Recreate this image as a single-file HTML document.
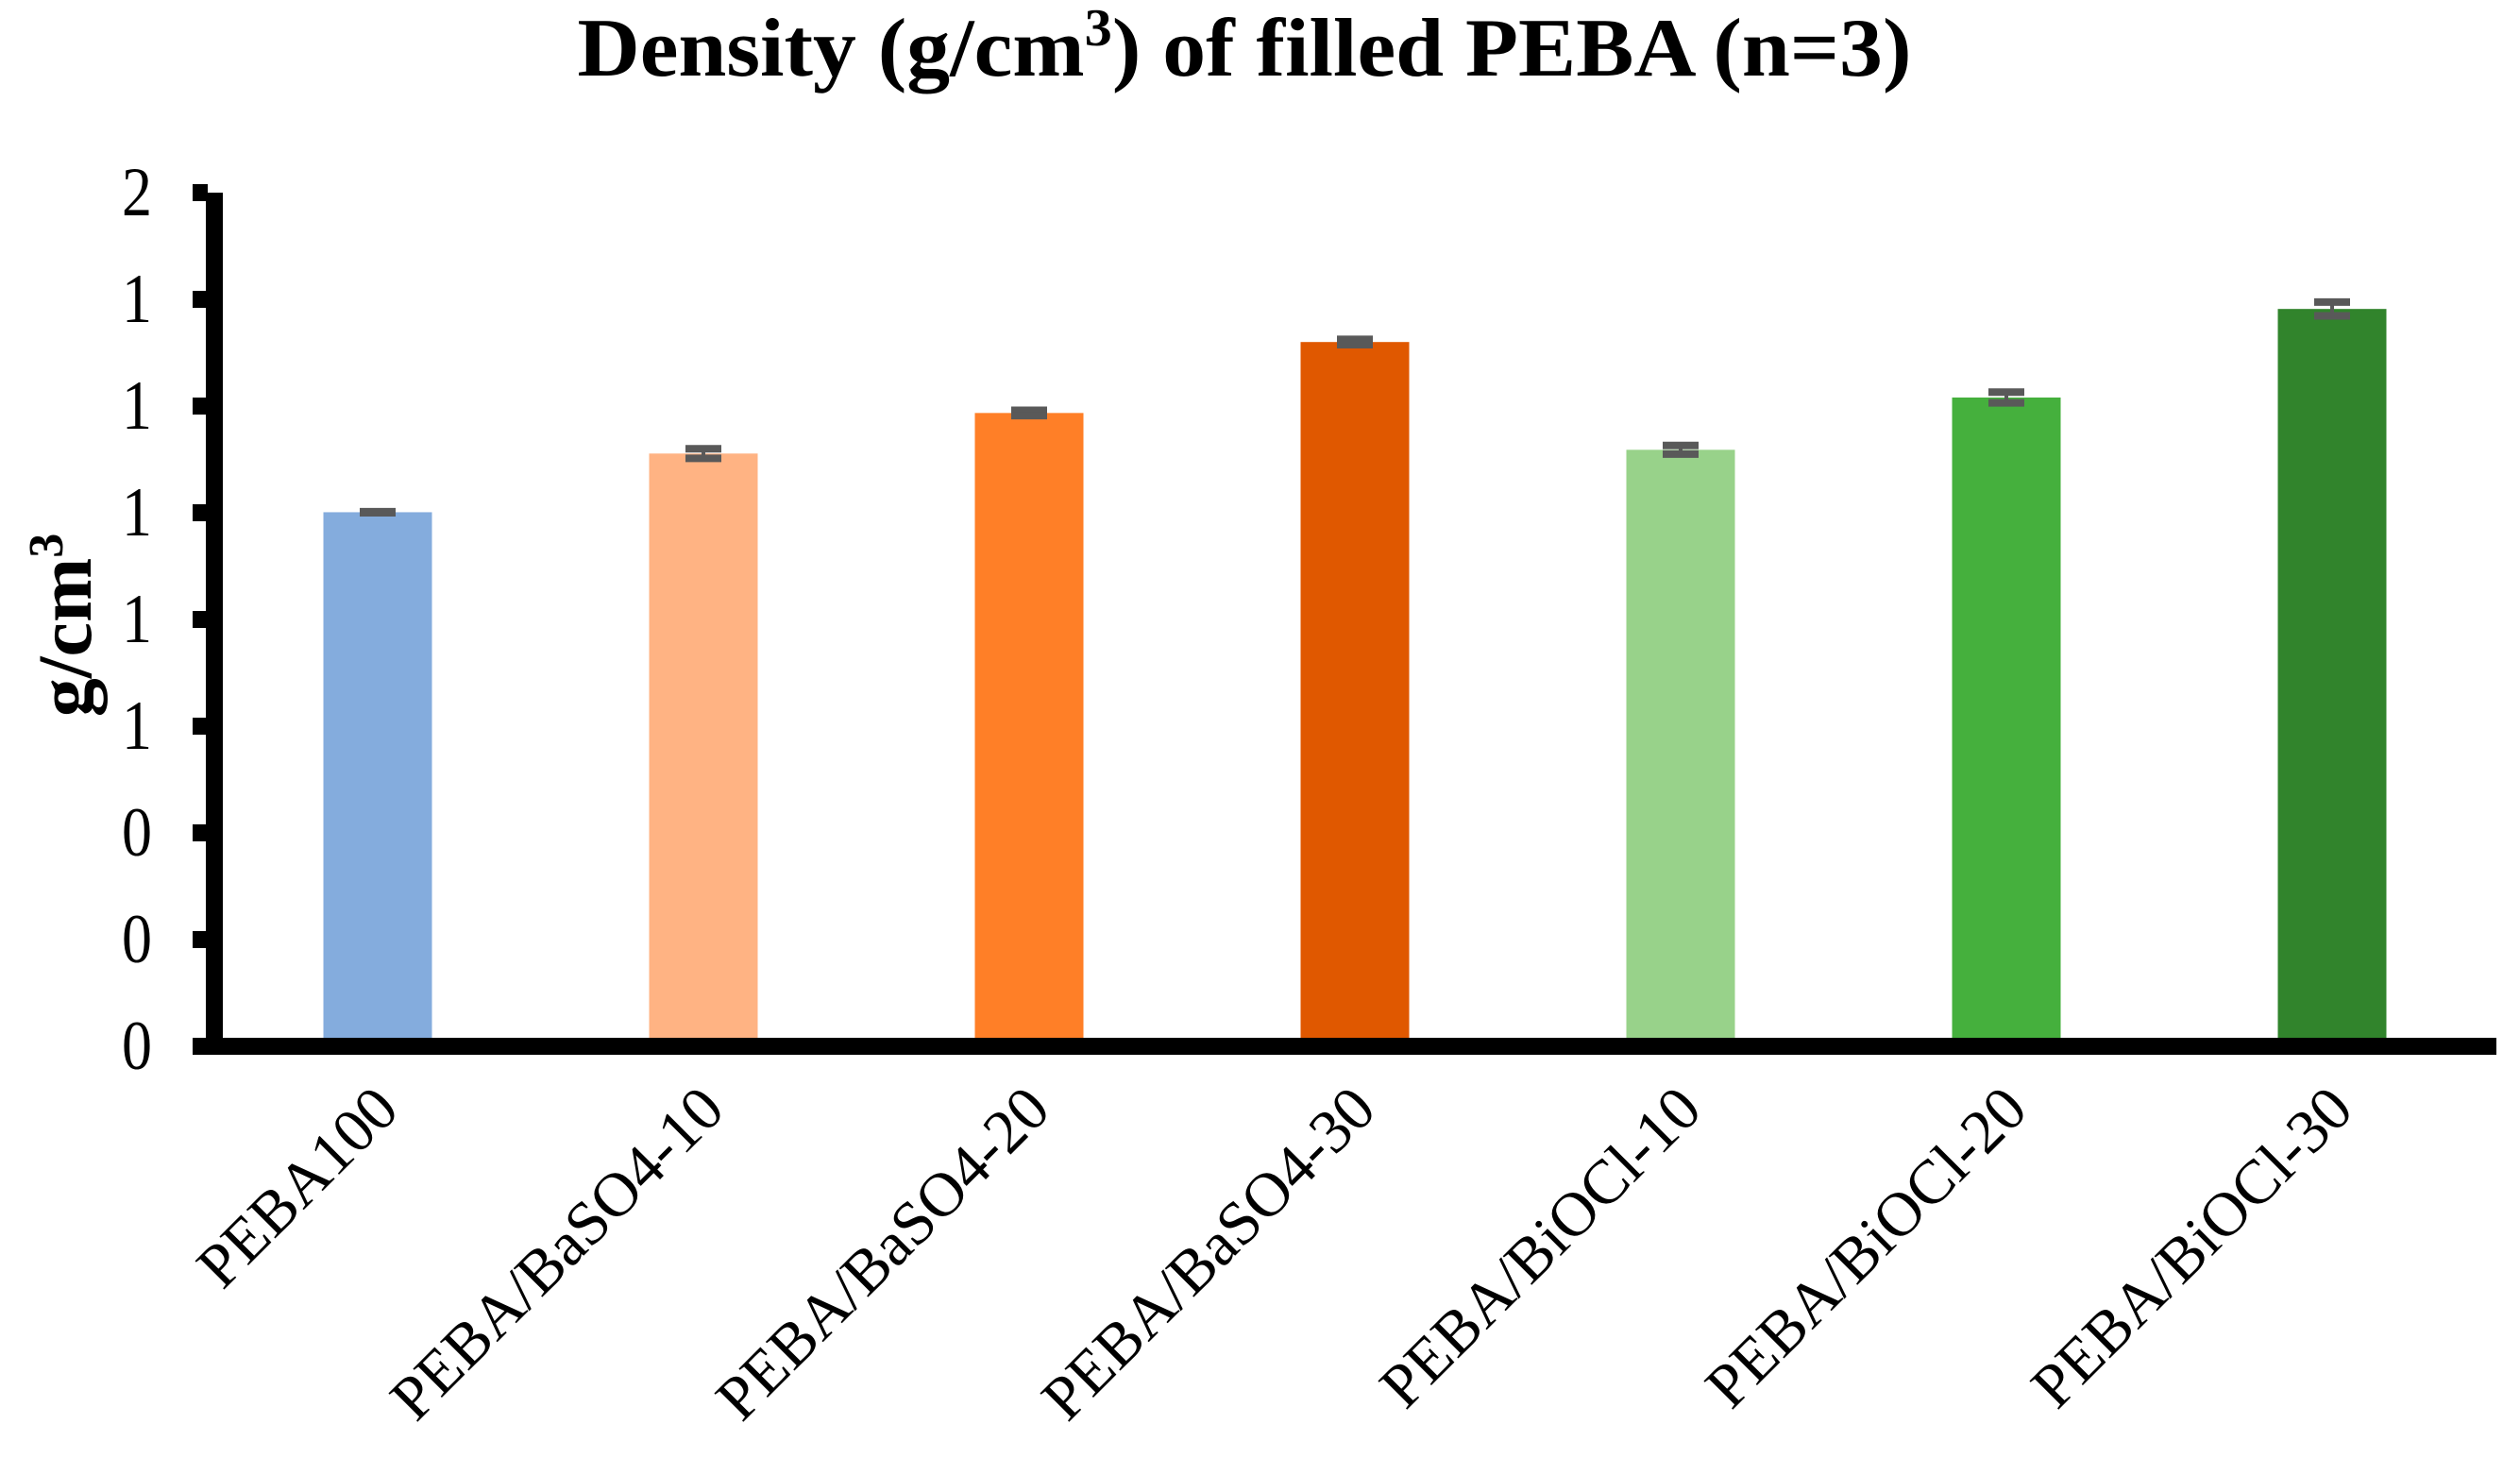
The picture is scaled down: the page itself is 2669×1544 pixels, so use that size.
<!DOCTYPE html>
<html><head><meta charset="utf-8"><style>
html,body{margin:0;padding:0;background:#fff;}
svg{display:block;}
text{font-family:"Liberation Serif","Times New Roman",serif;fill:#000;}
</style></head><body>
<svg id="chart" width="2669" height="1544" viewBox="0 0 2669 1544" xmlns="http://www.w3.org/2000/svg">
<text x="1318" y="80" font-size="88" font-weight="bold" text-anchor="middle" textLength="1413" lengthAdjust="spacingAndGlyphs">Density (g/cm<tspan font-size="56" dy="-32">3</tspan><tspan dy="32">) of filled PEBA (n=3)</tspan></text>
<text transform="translate(96,662) rotate(-90)" font-size="82" font-weight="bold" text-anchor="middle">g/cm<tspan font-size="52" dy="-30">3</tspan></text>
<g id="bars"></g>
<g id="axes"></g>
</svg>
<script>
const categories = ["PEBA100","PEBA/BaSO4-10","PEBA/BaSO4-20","PEBA/BaSO4-30","PEBA/BiOCl-10","PEBA/BiOCl-20","PEBA/BiOCl-30"];
const values = [1.001, 1.111, 1.187, 1.320, 1.118, 1.216, 1.382];
const errors = [0.001, 0.009, 0.005, 0.005, 0.008, 0.010, 0.013];
const colors = ["#84ACDD","#FFB383","#FF7F27","#E05800","#98D28A","#45B03D","#31842C"];
const tickValues = [0, 0.2, 0.4, 0.6, 0.8, 1.0, 1.2, 1.4, 1.6];
const tickLabels = ["0","0","0","1","1","1","1","1","2"];

const NS = "http://www.w3.org/2000/svg";
const y0 = 1108, yTop = 204, yMax = 1.6;
const yScale = v => y0 - (v / yMax) * (y0 - yTop);
const xStart = 400, step = 345, barW = 115;
const xScale = i => xStart + i * step;
function mk(tag, attrs, parent){ const e=document.createElementNS(NS,tag); for(const k in attrs) e.setAttribute(k,attrs[k]); parent.appendChild(e); return e; }
const bars = document.getElementById("bars");
const axes = document.getElementById("axes");

categories.forEach((c,i)=>{
  const cx = xScale(i), top = yScale(values[i]);
  const r = mk("rect",{x:cx-barW/2,y:top,width:barW,height:y0-top,fill:colors[i]},bars);
  
  
  const yl = yScale(values[i]-errors[i]), yh = yScale(values[i]+errors[i]);
  const g = mk("g",{stroke:"#595959"},bars);
  
  
  mk("line",{x1:cx,x2:cx,y1:yh,y2:yl,"stroke-width":4},g);
  mk("line",{x1:cx-19,x2:cx+19,y1:yh,y2:yh,"stroke-width":8},g);
  mk("line",{x1:cx-19,x2:cx+19,y1:yl,y2:yl,"stroke-width":8},g);
  const t = mk("text",{transform:`translate(${cx+25},${1178}) rotate(-45)`,"font-size":66,"text-anchor":"end"},axes);
  t.textContent = c;
  
  
});

const yAxis = mk("rect",{x:218,y:yTop,width:18,height:y0-yTop+9,fill:"#000"},axes);


const xAxis = mk("rect",{x:204,y:y0-9,width:2440,height:18,fill:"#000"},axes);


tickValues.forEach((v,i)=>{
  const y = yScale(v);
  const tk = mk("rect",{x:204,y:y-9,width:16,height:18,fill:"#000"},axes);
  
  
  const tl = mk("text",{x:161,y:y+24,"font-size":74,"text-anchor":"end",textLength:32,lengthAdjust:"spacingAndGlyphs"},axes);
  tl.textContent = tickLabels[i];
  
  
});
</script>
</body></html>
